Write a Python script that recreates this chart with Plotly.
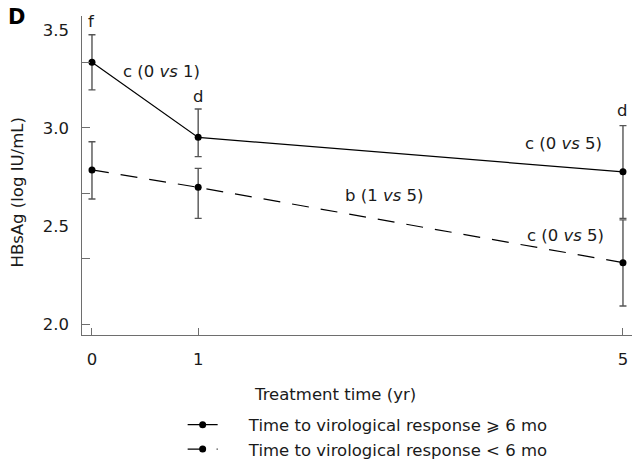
import plotly.graph_objects as go

# Treatment time points (years)
years = [0, 1, 5]

# HBsAg (log IU/mL), time to virological response >= 6 months
late_mean = [3.335, 2.952, 2.776]
late_err_plus = [0.140, 0.145, 0.236]
late_err_minus = [0.141, 0.098, 0.237]

# HBsAg (log IU/mL), time to virological response < 6 months
early_mean = [2.786, 2.697, 2.313]
early_err_plus = [0.144, 0.097, 0.218]
early_err_minus = [0.148, 0.158, 0.221]

NBSP = "\u00a0"
series_names = [
    NBSP * 5 + "Time to virological response \u2a7e 6 mo",
    NBSP * 5 + "Time to virological response < 6 mo",
]

y_label_vals = [2.0, 2.5, 3.0, 3.5]
y_label_text = ["2.0", "2.5", "3.0", "3.5"]
y_tick_marks = [2.0, 2.0 + 1 / 3, 2.0 + 2 / 3, 3.0, 3.0 + 1 / 3]
x_tick_vals = [0, 1, 5]

# significance letters: (text, x, y)
sig_labels = [
    ("f", 0.0, 3.545),
    ("c (0 <i>vs</i> 1)", 0.65, 3.286),
    ("d", 1.0, 3.160),
    ("d", 4.99, 3.090),
    ("c (0 <i>vs</i> 5)", 4.444, 2.923),
    ("b (1 <i>vs</i> 5)", 2.745, 2.658),
    ("c (0 <i>vs</i> 5)", 4.463, 2.454),
]

FONT = "DejaVu Sans"
FSIZE = 16.5
TEXT_COLOR = "#1a1a1a"
AXIS_COLOR = "#6e6e6e"
ERR_COLOR = "#555555"
y_range = [1.944, 3.571]
x_range = [-0.094, 5.085]

fig = go.Figure()

fig.add_trace(go.Scatter(
    x=years, y=late_mean, name=series_names[0],
    mode="lines+markers",
    line=dict(color="black", width=1.2),
    marker=dict(color="black", size=7),
    error_y=dict(type="data", symmetric=False, array=late_err_plus,
                 arrayminus=late_err_minus, color=ERR_COLOR,
                 thickness=1.4, width=3.5),
))

fig.add_trace(go.Scatter(
    x=years, y=early_mean, name=series_names[1],
    yaxis="y2",
    mode="lines+markers",
    line=dict(color="black", width=1.2, dash="17px,12px"),
    marker=dict(color="black", size=7),
    error_y=dict(type="data", symmetric=False, array=early_err_plus,
                 arrayminus=early_err_minus, color=ERR_COLOR,
                 thickness=1.4, width=3.5),
))

annotations = []
for text, xv, yv in sig_labels:
    annotations.append(dict(
        text=text, x=xv, y=yv, xref="x", yref="y",
        xanchor="center", yanchor="middle",
        showarrow=False, font=dict(family=FONT, size=FSIZE, color=TEXT_COLOR),
    ))

# panel letter
annotations.append(dict(
    text="<b>D</b>", x=-0.138, y=1.04, xref="paper", yref="paper",
    xanchor="left", yanchor="top", showarrow=False,
    font=dict(family=FONT, size=21, color="black"),
))
# axis titles
annotations.append(dict(
    text="HBsAg (log IU/mL)", x=-0.118, y=0.447, xref="paper", yref="paper",
    xanchor="center", yanchor="middle", textangle=-90, showarrow=False,
    font=dict(family=FONT, size=FSIZE, color=TEXT_COLOR),
))
annotations.append(dict(
    text="Treatment time (yr)", x=0.46, y=-0.185, xref="paper", yref="paper",
    xanchor="center", yanchor="middle", showarrow=False,
    font=dict(family=FONT, size=FSIZE, color=TEXT_COLOR),
))

fig.update_layout(
    width=640, height=463, autosize=False,
    margin=dict(l=82, r=8, t=16, b=128, autoexpand=False),
    paper_bgcolor="white", plot_bgcolor="white",
    font=dict(family=FONT, size=FSIZE, color=TEXT_COLOR),
    showlegend=True,
    legend=dict(
        x=0.183, y=-0.227, xref="paper", yref="paper",
        xanchor="left", yanchor="top",
        orientation="v", itemwidth=30, tracegroupgap=0,
        font=dict(family=FONT, size=FSIZE, color=TEXT_COLOR),
        bgcolor="rgba(0,0,0,0)",
    ),
    xaxis=dict(
        range=x_range, tickmode="array", tickvals=x_tick_vals,
        ticks="inside", ticklen=7, tickwidth=1.3, tickcolor=AXIS_COLOR,
        showline=True, linecolor=AXIS_COLOR, linewidth=1.4,
        showgrid=False, zeroline=False, ticklabelstandoff=9,
        tickfont=dict(family=FONT, size=FSIZE, color=TEXT_COLOR),
    ),
    yaxis=dict(
        range=y_range, tickmode="array", tickvals=y_tick_marks,
        showticklabels=False,
        ticks="inside", ticklen=8, tickwidth=1.3, tickcolor=AXIS_COLOR,
        showline=True, linecolor=AXIS_COLOR, linewidth=1.4,
        showgrid=False, zeroline=False,
    ),
    yaxis2=dict(
        range=y_range, overlaying="y", matches="y", side="left",
        tickmode="array", tickvals=y_label_vals, ticktext=y_label_text,
        ticks="", showline=False, showgrid=False, zeroline=False,
        ticklabelstandoff=12,
        tickfont=dict(family=FONT, size=FSIZE, color=TEXT_COLOR),
    ),
    annotations=annotations,
)

fig.write_html("out.html")
